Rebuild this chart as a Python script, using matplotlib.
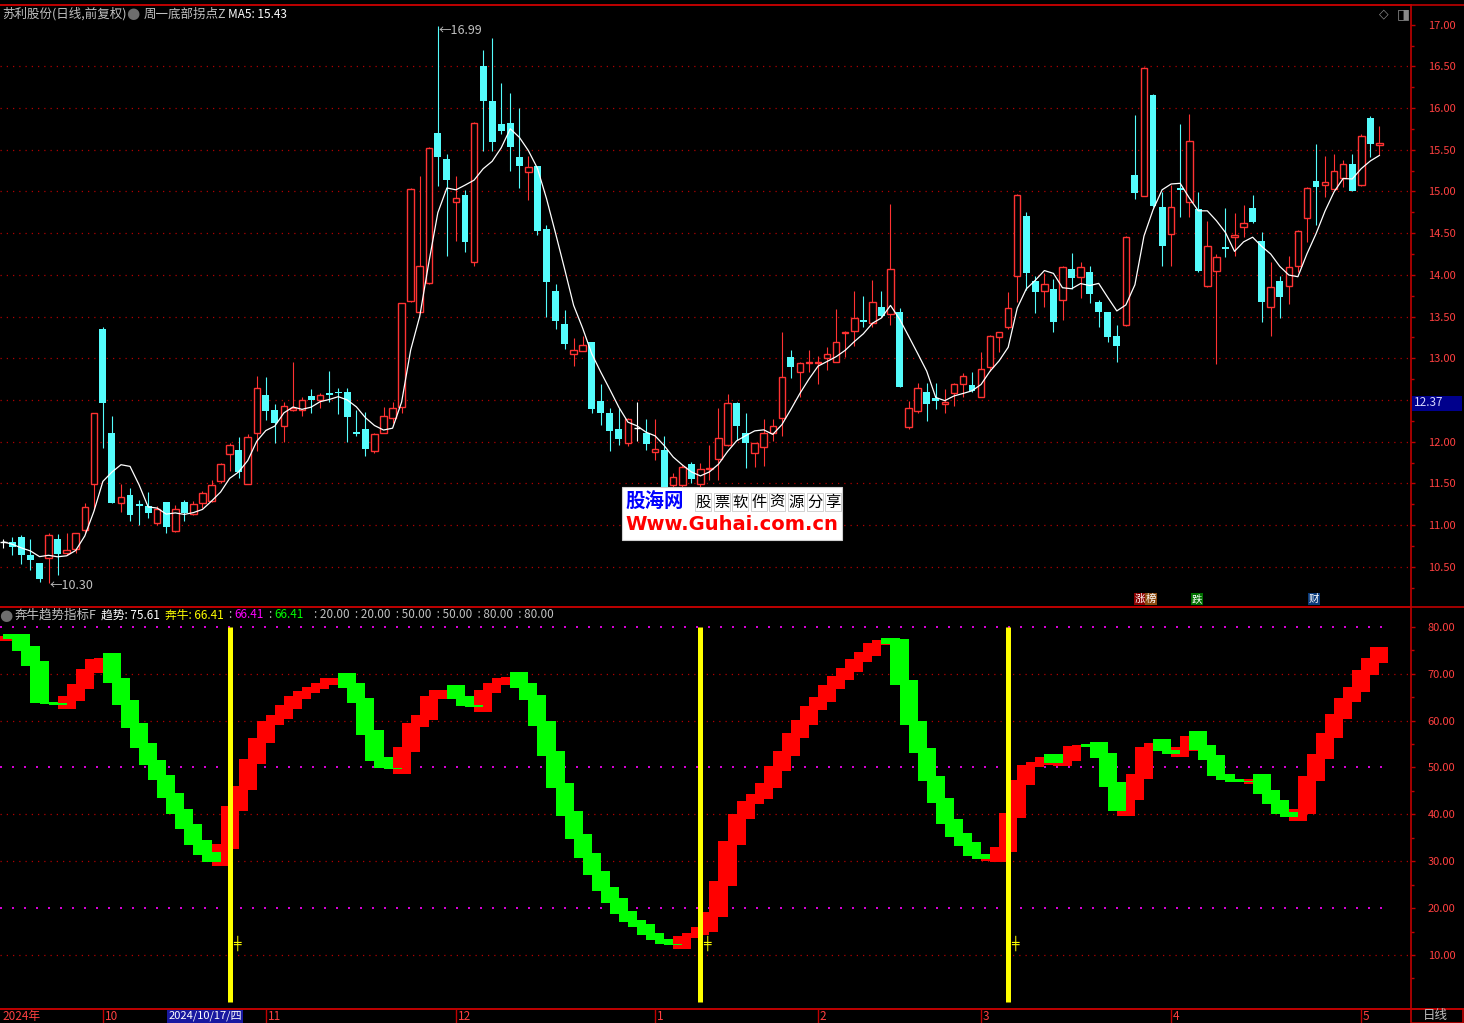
import matplotlib
matplotlib.use('Agg')
import matplotlib.pyplot as plt
import numpy as np
import pandas as pd
from matplotlib.lines import Line2D
from matplotlib.patches import Rectangle
from matplotlib.transforms import blended_transform_factory

plt.rcParams['font.family'] = ['Noto Sans CJK SC', 'DejaVu Sans']

# --- daily candles (Sep 2024 .. May 2025) ---
opens = [10.80, 10.80, 10.86, 10.64, 10.54, 10.60, 10.83, 10.67, 10.71, 10.94,
         11.49, 13.35, 12.10, 11.27, 11.36, 11.25, 11.23, 11.03, 11.28, 10.93,
         11.28, 11.13, 11.27, 11.29, 11.53, 11.85, 11.90, 11.49, 12.11, 12.56,
         12.38, 12.19, 12.38, 12.38, 12.55, 12.50, 12.57, 12.60, 12.59, 12.12,
         12.15, 11.89, 12.10, 12.28, 12.42, 13.69, 13.56, 13.90, 15.70, 15.39,
         14.87, 14.96, 14.15, 16.50, 16.09, 15.81, 15.82, 15.41, 15.23, 15.30,
         14.55, 13.81, 13.41, 13.05, 13.09, 13.19, 12.49, 12.34, 12.15, 11.99,
         12.17, 12.10, 11.88, 11.90, 11.48, 11.48, 11.73, 11.49, 11.67, 11.79,
         11.96, 12.46, 12.10, 11.87, 11.94, 12.10, 12.28, 13.01, 12.83, 12.94,
         12.94, 13.00, 12.95, 13.30, 13.33, 13.46, 13.42, 13.61, 13.53, 13.55,
         12.18, 12.37, 12.59, 12.52, 12.45, 12.58, 12.69, 12.68, 12.54, 12.89,
         13.26, 13.37, 13.99, 14.71, 13.93, 13.81, 13.83, 13.70, 14.07, 13.98,
         14.03, 13.67, 13.55, 13.27, 13.40, 15.20, 14.95, 16.16, 14.81, 14.49,
         15.04, 14.87, 14.79, 13.87, 14.05, 14.33, 14.46, 14.57, 14.80, 14.41,
         13.61, 13.93, 13.87, 14.11, 14.68, 15.13, 15.08, 15.03, 15.16, 15.33,
         15.08, 15.88, 15.56]
highs = [10.83, 10.86, 10.88, 10.83, 10.54, 10.90, 10.89, 10.90, 10.90, 11.26,
         12.35, 13.37, 12.31, 11.49, 11.45, 11.30, 11.40, 11.23, 11.28, 11.24,
         11.30, 11.29, 11.41, 11.54, 11.74, 11.98, 12.06, 12.09, 12.79, 12.77,
         12.45, 12.47, 12.95, 12.53, 12.63, 12.58, 12.85, 12.64, 12.64, 12.38,
         12.36, 12.10, 12.42, 12.47, 13.66, 15.04, 15.19, 15.53, 16.99, 15.45,
         15.19, 15.02, 15.83, 16.70, 16.84, 16.30, 16.18, 16.00, 15.43, 15.31,
         14.60, 13.89, 13.58, 13.24, 13.27, 13.20, 12.69, 12.40, 12.40, 12.28,
         12.48, 12.27, 12.27, 12.07, 11.62, 11.72, 11.76, 11.74, 11.96, 12.41,
         12.57, 12.47, 12.34, 11.99, 12.27, 12.27, 13.31, 13.10, 12.95, 13.10,
         13.03, 13.13, 13.59, 13.33, 13.81, 13.75, 13.94, 13.81, 14.85, 13.60,
         12.49, 12.70, 12.70, 12.70, 12.63, 12.70, 12.82, 12.83, 13.07, 13.28,
         13.32, 13.80, 14.97, 14.75, 13.99, 14.02, 13.95, 14.11, 14.26, 14.15,
         14.11, 13.70, 13.56, 13.40, 14.47, 15.92, 16.49, 16.17, 14.99, 15.08,
         15.81, 15.93, 14.99, 14.65, 14.25, 14.80, 14.74, 14.84, 14.96, 14.52,
         14.15, 13.99, 14.23, 14.54, 15.05, 15.57, 15.42, 15.45, 15.38, 15.45,
         15.69, 15.91, 15.79]
lows = [10.72, 10.64, 10.53, 10.46, 10.32, 10.30, 10.40, 10.64, 10.66, 10.90,
        11.18, 11.92, 11.26, 11.16, 11.05, 11.00, 11.09, 11.00, 10.91, 10.92,
        11.05, 11.12, 11.21, 11.28, 11.50, 11.65, 11.57, 11.49, 11.89, 12.26,
        11.99, 12.00, 12.37, 12.31, 12.35, 12.41, 12.47, 12.33, 12.00, 12.07,
        11.83, 11.87, 12.10, 12.22, 12.35, 13.68, 13.55, 13.89, 15.06, 14.23,
        14.41, 14.28, 14.11, 15.49, 15.49, 15.69, 15.24, 15.04, 14.90, 14.48,
        13.49, 13.35, 13.11, 12.91, 13.09, 12.35, 12.20, 11.89, 11.96, 11.95,
        12.01, 11.90, 11.78, 11.40, 11.44, 11.45, 11.50, 11.45, 11.54, 11.54,
        11.95, 12.02, 11.68, 11.70, 11.71, 12.01, 12.07, 12.76, 12.53, 12.84,
        12.69, 12.86, 12.95, 13.02, 13.15, 13.38, 13.38, 13.50, 13.40, 12.66,
        12.15, 12.35, 12.25, 12.39, 12.35, 12.43, 12.53, 12.60, 12.54, 12.85,
        13.07, 13.35, 13.68, 13.82, 13.54, 13.61, 13.31, 13.46, 13.83, 13.72,
        13.66, 13.38, 13.20, 12.96, 13.39, 14.91, 14.94, 14.82, 14.11, 14.11,
        14.70, 14.69, 14.04, 13.86, 12.93, 14.21, 14.23, 14.45, 14.62, 13.44,
        13.27, 13.48, 13.65, 14.04, 14.39, 14.60, 14.93, 15.02, 15.05, 15.00,
        15.07, 15.41, 15.44]
closes = [10.80, 10.74, 10.64, 10.58, 10.35, 10.88, 10.65, 10.70, 10.90, 11.22,
          12.34, 12.46, 11.26, 11.34, 11.12, 11.23, 11.14, 11.19, 10.98, 11.19,
          11.14, 11.25, 11.38, 11.48, 11.73, 11.96, 11.64, 12.06, 12.64, 12.37,
          12.23, 12.43, 12.41, 12.50, 12.50, 12.56, 12.56, 12.58, 12.30, 12.09,
          11.91, 12.09, 12.31, 12.41, 13.66, 15.03, 14.11, 15.52, 15.41, 15.14,
          14.92, 14.39, 15.82, 16.09, 15.59, 15.73, 15.53, 15.31, 15.29, 14.53,
          13.92, 13.45, 13.17, 13.10, 13.16, 12.39, 12.35, 12.13, 12.03, 12.27,
          12.17, 11.97, 11.91, 11.45, 11.58, 11.70, 11.55, 11.67, 11.69, 12.04,
          12.46, 12.19, 11.98, 11.98, 12.10, 12.19, 12.77, 12.90, 12.94, 12.96,
          12.96, 13.05, 13.19, 13.32, 13.48, 13.43, 13.68, 13.51, 14.07, 12.66,
          12.41, 12.64, 12.45, 12.49, 12.47, 12.69, 12.79, 12.61, 12.87, 13.27,
          13.31, 13.60, 14.96, 14.02, 13.79, 13.89, 13.43, 14.10, 13.96, 14.10,
          13.77, 13.56, 13.26, 13.15, 14.46, 14.98, 16.48, 14.83, 14.35, 14.81,
          15.02, 15.61, 14.05, 14.35, 14.22, 14.31, 14.48, 14.62, 14.63, 13.67,
          13.85, 13.74, 14.10, 14.53, 15.04, 15.05, 15.11, 15.25, 15.33, 15.01,
          15.67, 15.57, 15.58]

# --- 奔牛趋势 indicator value per bar ---
trend = [78.1, 77.4, 74.9, 71.7, 63.8, 63.5, 63.3, 65.2, 67.7, 71.0,
         73.1, 73.3, 68.1, 63.3, 58.5, 54.2, 50.5, 47.4, 43.5, 40.1,
         36.9, 33.5, 31.3, 29.9, 33.7, 41.8, 46.1, 51.7, 56.3, 59.8,
         61.2, 63.3, 65.2, 66.3, 67.1, 68.0, 69.0, 69.1, 67.0, 63.8,
         56.9, 51.4, 49.8, 49.7, 54.3, 59.4, 61.2, 65.2, 66.5, 66.6,
         64.6, 63.1, 62.8, 66.5, 68.0, 69.0, 69.3, 67.0, 64.4, 58.9,
         52.5, 45.7, 39.7, 34.7, 30.7, 27.0, 23.6, 21.1, 18.7, 17.0,
         15.9, 14.2, 13.1, 12.3, 12.2, 14.0, 14.8, 16.0, 19.2, 25.8,
         34.4, 40.1, 42.8, 44.3, 46.7, 50.3, 53.5, 57.3, 60.1, 63.1,
         65.0, 67.6, 69.5, 71.2, 73.1, 74.6, 76.5, 77.2, 76.3, 67.6,
         59.0, 53.1, 47.1, 42.4, 37.9, 35.1, 33.2, 31.1, 30.4, 30.8,
         33.0, 40.3, 47.3, 50.5, 51.1, 52.2, 51.0, 52.3, 54.6, 54.7,
         54.4, 52.1, 45.9, 40.7, 44.0, 48.5, 54.4, 55.3, 53.4, 52.9,
         54.4, 56.7, 53.8, 51.6, 48.2, 47.3, 46.9, 46.8, 47.5, 44.3,
         42.2, 40.1, 39.4, 41.1, 48.2, 52.9, 57.3, 61.4, 64.9, 67.1,
         70.8, 73.3, 75.6]
signal_bars = [25, 77, 111]

month_bars = [11, 29, 50, 72, 90, 108, 129, 150]
month_labels = ['10', '11', '12', '1', '2', '3', '4', '5']
price_ticks = [10.5, 11.0, 11.5, 12.0, 12.5, 13.0, 13.5, 14.0, 14.5, 15.0, 15.5, 16.0, 16.5, 17.0]
ind_ticks = [10, 20, 30, 40, 50, 60, 70, 80]

RED = '#ff3232'
CYAN = '#54fcfc'
FRAME = '#c00000'
LABEL = '#ff4040'
GRAY = '#c0c0c0'

W, H = 1464, 1023


def fx(px):
    return px / W


def fy(py):
    return 1 - py / H


fig = plt.figure(figsize=(W / 100, H / 100), dpi=100, facecolor='black')
ax1 = fig.add_axes([0, fy(607), fx(1411), (607 - 5) / H], facecolor='black')
ax2 = fig.add_axes([0, fy(1009), fx(1411), (1009 - 608) / H], facecolor='black')

o = np.array(opens)
h = np.array(highs)
l = np.array(lows)
c = np.array(closes)
x = np.arange(len(c))
xlim = (-3.3 / 9.053, (1411 - 3.3) / 9.053)

# --- price panel ---
for p in price_ticks[:-1]:
    ax1.axhline(p, color='#b00000', lw=0.9, linestyle=(0, (1, 4)), zorder=0)

up = c > o
dn = c < o
flat = c == o
ax1.vlines(x[up], l[up], h[up], color=RED, lw=0.8, zorder=2)
ax1.vlines(x[dn], l[dn], h[dn], color=CYAN, lw=0.8, zorder=2)
ax1.vlines(x[flat], l[flat], h[flat], color='white', lw=0.8, zorder=2)
ax1.bar(x[up], np.maximum(c - o, 0.015)[up], bottom=o[up], width=0.72,
        facecolor='black', edgecolor=RED, linewidth=1.0, zorder=3)
ax1.bar(x[dn], np.maximum(o - c, 0.018)[dn], bottom=c[dn], width=0.76,
        color=CYAN, linewidth=0, zorder=3)
ax1.hlines(c[flat], x[flat] - 0.37, x[flat] + 0.37, color='white', lw=1, zorder=3)

ma5 = pd.Series(c).rolling(5, min_periods=1).mean()
ax1.plot(x, ma5, color='white', lw=0.9, zorder=4)

ax1.text(48.1, 16.93, '\u219016.99', color=GRAY, fontsize=9, va='center', ha='left')
ax1.text(5.1, 10.28, '\u219010.30', color=GRAY, fontsize=9, va='center', ha='left')

ax1.set_xlim(*xlim)
ax1.set_ylim(10.018, 17.236)
ax1.set_xticks([])
ax1.yaxis.tick_right()
ax1.set_yticks(price_ticks)
# the 12.50 label sits under the current-price tag
ax1.set_yticklabels(['' if p == 12.5 else '%.2f' % p for p in price_ticks])
ax1.set_yticks(np.arange(10.25, 17.2, 0.25), minor=True)

# --- indicator panel ---
for v in [10, 30, 40, 60, 70]:
    ax2.axhline(v, color='#b00000', lw=0.9, linestyle=(0, (1, 4)), zorder=0)
for v in [20, 50, 80]:
    ax2.axhline(v, xmax=0.981, color='#ff00ff', lw=1.2, linestyle=(0, (1.2, 6)), zorder=0)

t = np.array(trend)
prev = np.r_[t[0] - 0.7, t[:-1]]
step = t - prev
pad = np.minimum(1.0, 0.4 * np.abs(step) + 0.1)
rise = step >= 0
lo = np.where(rise, prev - pad, t)
hi = np.where(rise, t, prev + pad)
ax2.bar(x[rise], (hi - lo)[rise], bottom=lo[rise], width=2, color='#ff0000',
        linewidth=0, zorder=2)
ax2.bar(x[~rise], (hi - lo)[~rise], bottom=lo[~rise], width=2, color='#00ff00',
        linewidth=0, zorder=2)

ax2.vlines(signal_bars, 0, 80, color='#ffff00', lw=3.6, zorder=5)
for b in signal_bars:
    ax2.text(b + 0.35, 12.5, '\u256a', color='#ffff00', fontsize=9, ha='left',
             va='center', family='DejaVu Sans', zorder=6)

ax2.set_xlim(*xlim)
ax2.set_ylim(-1.51, 83.99)
ax2.set_xticks([])
ax2.yaxis.tick_right()
ax2.set_yticks(ind_ticks)
ax2.set_yticklabels(['%.2f' % v for v in ind_ticks])
ax2.set_yticks(np.arange(5, 85, 5), minor=True)

for ax in (ax1, ax2):
    ax.tick_params(axis='y', which='major', colors=FRAME, labelcolor=LABEL,
                   length=3, width=1, pad=9, labelsize=8)
    ax.tick_params(axis='y', which='minor', colors=FRAME, length=2, width=1)
    for s in ax.spines.values():
        s.set_color(FRAME)
        s.set_linewidth(1.2)
    ax.spines['left'].set_visible(False)
ax2.spines['top'].set_visible(False)

# bottom date strip
trans = blended_transform_factory(ax2.transData, ax2.transAxes)
ax2.vlines(month_bars, -0.036, 0, transform=trans, color=FRAME, lw=1, clip_on=False)
for b, lab in zip(month_bars, month_labels):
    ax2.text(b + 0.2, -0.018, lab, transform=trans, color=LABEL, fontsize=8.5,
             ha='left', va='center')
ax2.text(-0.1, -0.018, '2024年', transform=trans, color=LABEL, fontsize=8.5,
         ha='left', va='center')
ax2.text(18.2, -0.018, '2024/10/17/四', transform=trans, color='white', fontsize=8,
         ha='left', va='center',
         bbox=dict(facecolor='#1818a0', edgecolor='none', pad=0.8))

# frame lines across the full width
for yy in [4.5, 607, 1009]:
    fig.add_artist(Line2D([0, 1], [fy(yy), fy(yy)], transform=fig.transFigure,
                          color=FRAME, lw=1.2))
fig.add_artist(Rectangle((fx(1411), fy(1023)), fx(52), 14 / H, transform=fig.transFigure,
                         facecolor='none', edgecolor=FRAME, lw=1.2))
fig.text(fx(1423), fy(1016), '日线', color=GRAY, fontsize=9, va='center', ha='left')

# headers
fig.text(fx(2), fy(14), '苏利股份(日线,前复权)', color=GRAY, fontsize=9, va='center')
fig.text(fx(133), fy(14), '\u25cf', color='#6e6e6e', fontsize=11, va='center', ha='center',
         family='DejaVu Sans')
fig.text(fx(144), fy(14), '周一底部拐点Z', color=GRAY, fontsize=9, va='center')
fig.text(fx(228), fy(14), 'MA5: 15.43', color='white', fontsize=8.5, va='center')
fig.text(fx(1384), fy(14), '\u25c7', color='#8a8a8a', fontsize=9, va='center', ha='center',
         family='DejaVu Sans')
fig.text(fx(1403), fy(14), '\u25e8', color='#8a8a8a', fontsize=10, va='center', ha='center',
         family='DejaVu Sans')

fig.text(fx(6), fy(615), '\u25cf', color='#6e6e6e', fontsize=11, va='center', ha='center',
         family='DejaVu Sans')
fig.text(fx(15), fy(615), '奔牛趋势指标F', color=GRAY, fontsize=9, va='center')
fig.text(fx(101), fy(615), '趋势: 75.61', color='white', fontsize=8.5, va='center')
fig.text(fx(165), fy(615), '奔牛: 66.41', color='#ffff00', fontsize=8.5, va='center')
fig.text(fx(228), fy(615), ':', color=GRAY, fontsize=8.5, va='center')
fig.text(fx(234), fy(615), '66.41', color='#ff00ff', fontsize=8.5, va='center')
fig.text(fx(268), fy(615), ':', color=GRAY, fontsize=8.5, va='center')
fig.text(fx(274), fy(615), '66.41', color='#00ff00', fontsize=8.5, va='center')
fig.text(fx(314), fy(615), ': 20.00  : 20.00  : 50.00  : 50.00  : 80.00  : 80.00',
         color=GRAY, fontsize=8.5, va='center')

# small tag icons above the panel split
for px, ch, bg in [(1140, '涨', '#8b0000'), (1151, '榜', '#8b4a10'),
                   (1197, '跌', '#007000'), (1314, '财', '#0a3a7a')]:
    fig.text(fx(px), fy(599), ch, color='white', fontsize=7.5, va='center', ha='center',
             bbox=dict(facecolor=bg, edgecolor='none', pad=0.6))

# current price tag on the axis
fig.add_artist(Rectangle((fx(1412), fy(411)), fx(50), 15 / H, transform=fig.transFigure,
                         facecolor='#00008c', edgecolor='none'))
fig.text(fx(1414), fy(403), '12.37', color='#d8d8ff', fontsize=8.5, va='center', ha='left')

# watermark box
fig.add_artist(Rectangle((fx(622), fy(540)), fx(220), 53 / H, transform=fig.transFigure,
                         facecolor='white', edgecolor='#d0d0d0', lw=0.8, zorder=8))
fig.text(fx(625), fy(502), '股海网', color='#0000ff', fontsize=14, fontweight='bold',
         va='center', zorder=9)
for k, ch in enumerate('股票软件资源分享'):
    fig.text(fx(703 + 18.6 * k), fy(502), ch, color='black', fontsize=11, va='center',
             ha='center', zorder=9,
             bbox=dict(facecolor='none', edgecolor='#b0b0b0', lw=0.4, pad=0.2))
fig.text(fx(625), fy(524), 'Www.Guhai.com.cn', color='#ff0000', fontsize=14,
         fontweight='bold', va='center', family='DejaVu Sans', zorder=9)

fig.savefig('out.png', dpi=100, facecolor='black')
